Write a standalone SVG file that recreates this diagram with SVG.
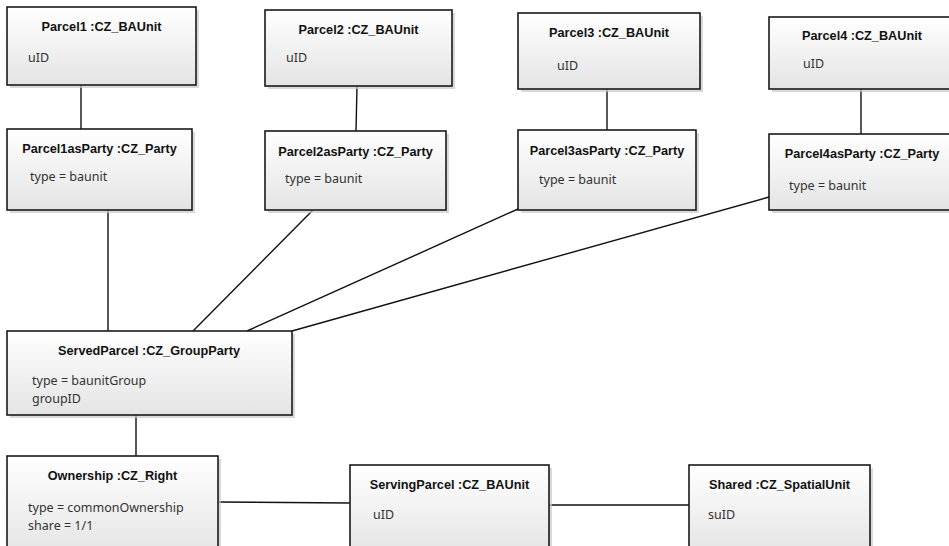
<svg xmlns="http://www.w3.org/2000/svg" width="949" height="546" viewBox="0 0 949 546">
<defs>
<linearGradient id="g" x1="0" y1="0" x2="0" y2="1">
<stop offset="0" stop-color="#ffffff"/>
<stop offset="1" stop-color="#e4e4e4"/>
</linearGradient>
<style>
.sh{fill:#c9c9c9;opacity:0.7}
.bx{fill:url(#g);stroke:#1a1a1a;stroke-width:1.6}
.t{font-family:"Liberation Sans",Arial,sans-serif;font-weight:bold;font-size:12.7px;fill:#111;text-anchor:middle}
.a{font-family:"Noto Sans","Liberation Sans",sans-serif;font-size:12.5px;fill:#333}
.c{stroke:#111;stroke-width:1.4;fill:none}
</style>
</defs>
<rect width="949" height="546" fill="#fff"/>
<g id="connectors">
<line class="c" x1="81" y1="85" x2="81" y2="129"/>
<line class="c" x1="357" y1="86" x2="356" y2="131"/>
<line class="c" x1="607" y1="89" x2="607" y2="130"/>
<line class="c" x1="861" y1="89" x2="861" y2="134"/>
<line class="c" x1="108" y1="210" x2="108" y2="331"/>
<line class="c" x1="313" y1="210" x2="193" y2="331"/>
<line class="c" x1="518" y1="209" x2="247" y2="331"/>
<line class="c" x1="769" y1="197" x2="292" y2="331"/>
<line class="c" x1="136" y1="415" x2="136" y2="456"/>
<line class="c" x1="218" y1="502" x2="350" y2="503"/>
<line class="c" x1="549" y1="505" x2="689" y2="505"/>
</g>
<g id="parcel1">
<rect class="sh" x="10" y="10" width="189" height="78"/>
<rect class="bx" x="7" y="7" width="189" height="78"/>
<text class="t" x="101.5" y="31">Parcel1 :CZ_BAUnit</text>
<text class="a" x="28" y="62">uID</text>
</g>
<g id="parcel1asParty">
<rect class="sh" x="10" y="132" width="185" height="81"/>
<rect class="bx" x="7" y="129" width="185" height="81"/>
<text class="t" x="99.5" y="153">Parcel1asParty :CZ_Party</text>
<text class="a" x="30" y="181">type = baunit</text>
</g>
<g id="parcel2">
<rect class="sh" x="268" y="13" width="187" height="76"/>
<rect class="bx" x="265" y="10" width="187" height="76"/>
<text class="t" x="358.5" y="34">Parcel2 :CZ_BAUnit</text>
<text class="a" x="286" y="62">uID</text>
</g>
<g id="parcel2asParty">
<rect class="sh" x="268" y="134" width="181" height="79"/>
<rect class="bx" x="265" y="131" width="181" height="79"/>
<text class="t" x="355.5" y="156">Parcel2asParty :CZ_Party</text>
<text class="a" x="285" y="183">type = baunit</text>
</g>
<g id="parcel3">
<rect class="sh" x="521" y="16" width="182" height="76"/>
<rect class="bx" x="518" y="13" width="182" height="76"/>
<text class="t" x="609" y="37">Parcel3 :CZ_BAUnit</text>
<text class="a" x="557" y="70">uID</text>
</g>
<g id="parcel3asParty">
<rect class="sh" x="521" y="133" width="178" height="80"/>
<rect class="bx" x="518" y="130" width="178" height="80"/>
<text class="t" x="607" y="155">Parcel3asParty :CZ_Party</text>
<text class="a" x="539" y="184">type = baunit</text>
</g>
<g id="parcel4">
<rect class="sh" x="772" y="20" width="186" height="72"/>
<rect class="bx" x="769" y="17" width="186" height="72"/>
<text class="t" x="862" y="40">Parcel4 :CZ_BAUnit</text>
<text class="a" x="803" y="68">uID</text>
</g>
<g id="parcel4asParty">
<rect class="sh" x="772" y="137" width="186" height="76"/>
<rect class="bx" x="769" y="134" width="186" height="76"/>
<text class="t" x="862" y="158">Parcel4asParty :CZ_Party</text>
<text class="a" x="789" y="190">type = baunit</text>
</g>
<g id="servedParcel">
<rect class="sh" x="10" y="334" width="285" height="84"/>
<rect class="bx" x="7" y="331" width="285" height="84"/>
<text class="t" x="149" y="355">ServedParcel :CZ_GroupParty</text>
<text class="a" x="32" y="385">type = baunitGroup</text>
<text class="a" x="32" y="403">groupID</text>
</g>
<g id="ownership">
<rect class="sh" x="10" y="459" width="211" height="100"/>
<rect class="bx" x="7" y="456" width="211" height="100"/>
<text class="t" x="112.5" y="480">Ownership :CZ_Right</text>
<text class="a" x="28" y="512">type = commonOwnership</text>
<text class="a" x="28" y="530">share = 1/1</text>
</g>
<g id="servingParcel">
<rect class="sh" x="353" y="468" width="199" height="90"/>
<rect class="bx" x="350" y="465" width="199" height="90"/>
<text class="t" x="449.5" y="489">ServingParcel :CZ_BAUnit</text>
<text class="a" x="373" y="519">uID</text>
</g>
<g id="shared">
<rect class="sh" x="692" y="468" width="181" height="90"/>
<rect class="bx" x="689" y="465" width="181" height="90"/>
<text class="t" x="779.5" y="489">Shared :CZ_SpatialUnit</text>
<text class="a" x="708" y="519">suID</text>
</g>
</svg>
